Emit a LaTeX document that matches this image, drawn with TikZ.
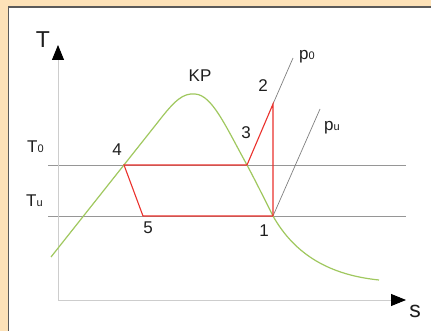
\documentclass[tikz,border=0pt]{standalone}
\usepackage{fontspec}
\setmainfont{Liberation Sans}
\usetikzlibrary{arrows.meta}
\definecolor{peach}{RGB}{253,226,184}
\definecolor{frame}{RGB}{90,90,90}
\definecolor{axisgray}{RGB}{205,205,205}
\definecolor{linegray}{RGB}{150,150,150}
\definecolor{cyclered}{RGB}{235,50,45}
\definecolor{curvegreen}{RGB}{160,200,95}
\definecolor{ink}{RGB}{30,30,30}
\tikzset{
  axis/.style={draw=axisgray, line width=0.9pt, -{Triangle[length=15pt,width=12pt,fill=black,color=black]}},
  isoline/.style={draw=linegray, line width=0.8pt},
  pline/.style={draw=linegray!85!black, line width=0.7pt},
  cycle/.style={draw=cyclered, line width=1.1pt},
  sat/.style={draw=curvegreen, line width=1.2pt},
  lbl/.style={text=ink, inner sep=0pt, font=\fontsize{17}{17}\selectfont},
  big/.style={text=ink, inner sep=0pt, font=\fontsize{23}{23}\selectfont},
}
\newcommand{\subsc}[1]{{\fontsize{11}{11}\selectfont #1}}
\begin{document}
\begin{tikzpicture}[x=1pt,y=-1pt]
\useasboundingbox (0,0) rectangle (431,331);
\fill[peach] (0,0) rectangle (431,331);
\fill[white] (8.3,6.8) rectangle (431,331);
\draw[frame, line width=1.6pt] (8.3,331) -- (8.3,6.8) -- (431,6.8);

% named points
\coordinate (o) at (58,300);
\coordinate (ytop) at (58,45);
\coordinate (xend) at (406,300);
\coordinate (t0l) at (48,165);
\coordinate (t0r) at (406,165);
\coordinate (tul) at (48,216);
\coordinate (tur) at (406,216);
\coordinate (p1) at (273,216);
\coordinate (p2) at (273,104);
\coordinate (p3) at (247,165);
\coordinate (p4) at (124,165);
\coordinate (p5) at (143,216);
\coordinate (p0end) at (293,58);
\coordinate (puend) at (320,109);
\coordinate (kp) at (195,94);
\coordinate (satstart) at (51,257);
\coordinate (satend) at (379,280);

% isotherms
\draw[isoline] (t0l) -- (t0r);
\draw[isoline] (tul) -- (tur);

% axes
\draw[axis] (o) -- (ytop);
\draw[axis] (o) -- (xend);

% isobars
\draw[pline] (p2) -- (p0end);
\draw[pline] (p1) -- (puend);

% saturation curve
\draw[sat] (satstart) -- (158,122) .. controls (175,100) and (183,93) .. (kp)
  .. controls (212,95) and (225,125) .. (p3)
  .. controls (255,180) and (265,200) .. (p1)
  .. controls (295,255) and (330,275) .. (satend);

% cycle
\draw[cycle] (p1) -- (p5) -- (p4) -- (p3) -- (p2) -- (p1);

% labels
\node[big] (lT) at (43,40) {T};
\node[big] (ls) at (415,311) {s};
\node[lbl] (lKP) at (200,76) {KP};
\node[lbl] (l1) at (264,231) {1};
\node[lbl] (l2) at (263,86) {2};
\node[lbl] (l3) at (246,133) {3};
\node[lbl] (l4) at (117,150) {4};
\node[lbl] (l5) at (148,228) {5};
\node[lbl, anchor=base west] (lT0) at (27,153) {T\subsc{0}};
\node[lbl, anchor=base west] (lTu) at (26,207) {T\subsc{u}};
\node[lbl, anchor=base west] (lp0) at (299,60) {p\subsc{0}};
\node[lbl, anchor=base west] (lpu) at (324,131) {p\subsc{u}};
\end{tikzpicture}
\end{document}
